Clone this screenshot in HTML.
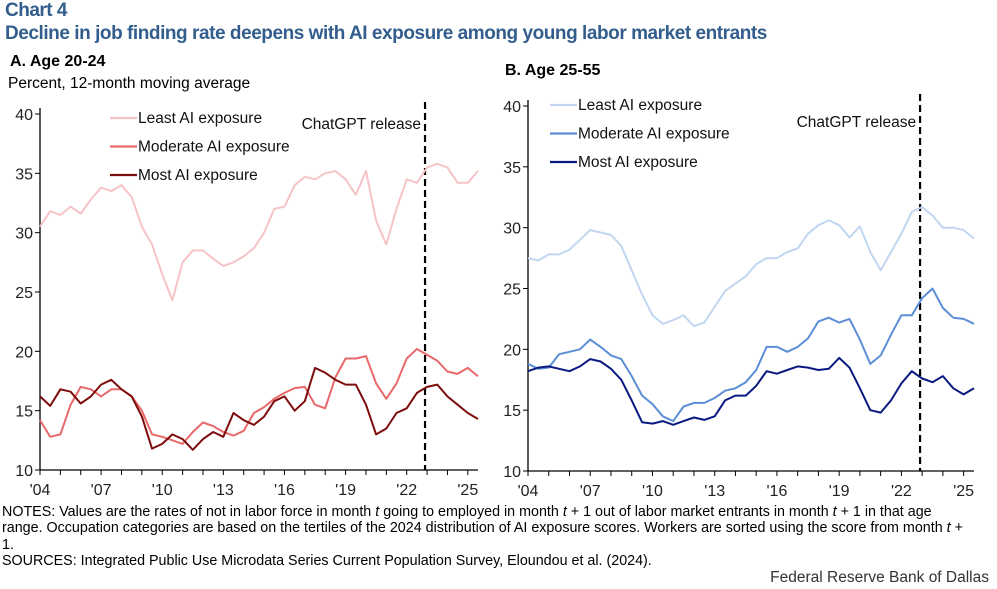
<!DOCTYPE html>
<html><head><meta charset="utf-8"><style>
body{margin:0;width:997px;height:589px;background:#fff;font-family:"Liberation Sans",sans-serif;overflow:hidden;position:relative}
.t{position:absolute;white-space:nowrap}
</style></head><body>
<div class="t" style="left:5px;top:0px;font-size:19px;font-weight:bold;color:#325d8c;letter-spacing:-0.5px">Chart 4</div>
<div class="t" style="left:5px;top:23px;font-size:19px;font-weight:bold;color:#325d8c;letter-spacing:-0.45px">Decline in job finding rate deepens with AI exposure among young labor market entrants</div>
<div class="t" style="left:10px;top:53px;font-size:16px;font-weight:bold">A. Age 20-24</div>
<div class="t" style="left:8px;top:75px;font-size:15.5px">Percent, 12-month moving average</div>
<div class="t" style="left:505px;top:62px;font-size:16px;font-weight:bold">B. Age 25-55</div>
<div class="t" style="left:2px;top:504px;font-size:14.3px;line-height:16.3px">NOTES: Values are the rates of not in labor force in month <i>t</i> going to employed in month <i>t</i> + 1 out of labor market entrants in month <i>t</i> + 1 in that age<br>range. Occupation categories are based on the tertiles of the 2024 distribution of AI exposure scores. Workers are sorted using the score from month <i>t</i> +<br>1.<br>SOURCES: Integrated Public Use Microdata Series Current Population Survey, Eloundou et al. (2024).</div>
<div class="t" style="right:8px;top:569px;font-size:15.5px;color:#333">Federal Reserve Bank of Dallas</div>
<svg id="svg" width="997" height="589" style="position:absolute;left:0;top:0"></svg>
<script>
const yearStart=2004, step=0.5;
const yTicks=[10,15,20,25,30,35,40];
const xTickLabels=["'04","'07","'10","'13","'16","'19","'22","'25"];
const xTickYears=[2004,2007,2010,2013,2016,2019,2022,2025];
const releaseYear=2022.9;
const aLeast=[30.5,31.8,31.5,32.2,31.6,32.8,33.8,33.5,34.0,33,30.5,29,26.5,24.3,27.5,28.5,28.5,27.8,27.2,27.5,28,28.7,30,32,32.2,34,34.7,34.5,35,35.2,34.5,33.2,35.2,31,29,32,34.5,34.2,35.5,35.8,35.5,34.2,34.2,35.2];
const aModerate=[14.2,12.8,13,15.5,17,16.8,16.2,16.8,16.8,16.2,15,13,12.8,12.5,12.2,13.2,14,13.7,13.2,12.9,13.3,14.8,15.3,16,16.5,16.9,17,15.5,15.2,17.8,19.4,19.4,19.6,17.3,16,17.3,19.4,20.2,19.7,19.2,18.3,18.1,18.6,17.9];
const aMost=[16.2,15.4,16.8,16.6,15.6,16.2,17.2,17.6,16.8,16.2,14.5,11.8,12.2,13,12.6,11.7,12.6,13.2,12.8,14.8,14.2,13.8,14.5,15.8,16.2,15,15.8,18.6,18.2,17.6,17.2,17.2,15.5,13,13.5,14.8,15.2,16.5,17,17.2,16.2,15.5,14.8,14.3];
const bLeast=[27.5,27.3,27.8,27.8,28.2,29,29.8,29.6,29.4,28.5,26.5,24.5,22.8,22.1,22.4,22.8,21.9,22.2,23.5,24.8,25.4,26,27,27.5,27.5,28,28.3,29.5,30.2,30.6,30.2,29.2,30.1,28,26.5,28,29.5,31.3,31.7,31,30,30,29.8,29.1];
const bModerate=[18.8,18.4,18.5,19.6,19.8,20,20.8,20.2,19.5,19.2,17.8,16.2,15.5,14.5,14.1,15.3,15.6,15.6,16,16.6,16.8,17.3,18.3,20.2,20.2,19.8,20.2,20.9,22.3,22.6,22.2,22.5,20.8,18.8,19.5,21.2,22.8,22.8,24.2,25,23.4,22.6,22.5,22.1];
const bMost=[18.2,18.5,18.6,18.4,18.2,18.6,19.2,19,18.4,17.5,15.8,14,13.9,14.1,13.8,14.1,14.4,14.2,14.5,15.8,16.2,16.2,17,18.2,18,18.3,18.6,18.5,18.3,18.4,19.3,18.5,16.8,15,14.8,15.8,17.2,18.2,17.6,17.3,17.8,16.8,16.3,16.8];
const labels=["Least AI exposure","Moderate AI exposure","Most AI exposure"];
const NS="http://www.w3.org/2000/svg", svg=document.getElementById('svg');
function mk(tag,attrs){const e=document.createElementNS(NS,tag);for(const k in attrs)e.setAttribute(k,attrs[k]);svg.appendChild(e);return e;}
function panel(p){
  const x=v=>p.x0+(v-2004)/(2025.5-2004)*(p.x1-p.x0);
  const y=v=>p.y1-(v-10)/30*(p.y1-p.y0);
  let e=mk('line',{x1:p.x0,x2:p.x0,y1:p.y0-6,y2:p.y1,stroke:'#000','stroke-width':1.3});
  
  e=mk('line',{x1:p.x0,x2:p.x1,y1:p.y1,y2:p.y1,stroke:'#000','stroke-width':1.3});
  
  yTicks.forEach(t=>{
    mk('line',{x1:p.x0-5,x2:p.x0,y1:y(t),y2:y(t),stroke:'#000'});
    const tx=mk('text',{x:p.x0-7,y:y(t)+6,'text-anchor':'end','font-size':16,fill:'#222'});tx.textContent=t;
    
  });
  for(let yr=2004;yr<=2025;yr++) mk('line',{x1:x(yr),x2:x(yr),y1:p.y1,y2:p.y1+5,stroke:'#000'});
  xTickYears.forEach((yr,i)=>{
    const tx=mk('text',{x:x(yr),y:p.y1+25,'text-anchor':'middle','font-size':16,fill:'#222'});tx.textContent=xTickLabels[i];
    
  });
  e=mk('line',{x1:x(releaseYear),x2:x(releaseYear),y1:p.y0-12,y2:p.y1,stroke:'#000','stroke-width':2.2,'stroke-dasharray':'7,4'});
  
  e=mk('text',{x:x(releaseYear)-4,y:p.relY,'text-anchor':'end','font-size':15.5,fill:'#111'});e.textContent='ChatGPT release';
  
  p.series.forEach((s,i)=>{
    const d=s.map((v,j)=>(j?'L':'M')+x(yearStart+j*step).toFixed(1)+','+y(v).toFixed(1)).join('');
    const pa=mk('path',{d:d,fill:'none',stroke:p.colors[i],'stroke-width':2,'stroke-linejoin':'round'});
    
    const ly=p.legY+i*28.5;
    const ll=mk('line',{x1:p.legX,x2:p.legX+27,y1:ly,y2:ly,stroke:p.colors[i],'stroke-width':2.2});
    
    const lt=mk('text',{x:p.legX+28,y:ly+5,'font-size':15.5,fill:'#111'});lt.textContent=labels[i];
    
  });
}
panel({id:'panel-a',x0:40,x1:478,y0:114,y1:470,legX:110,legY:118,relY:129,colors:['#f6c3c6','#e8696b','#7d0c0c'],series:[aLeast,aModerate,aMost]});
panel({id:'panel-b',x0:528,x1:974,y0:106,y1:471,legX:550,legY:105,relY:127,colors:['#c2d6f1','#5b8ed6','#0b1a80'],series:[bLeast,bModerate,bMost]});
</script>
</body></html>
